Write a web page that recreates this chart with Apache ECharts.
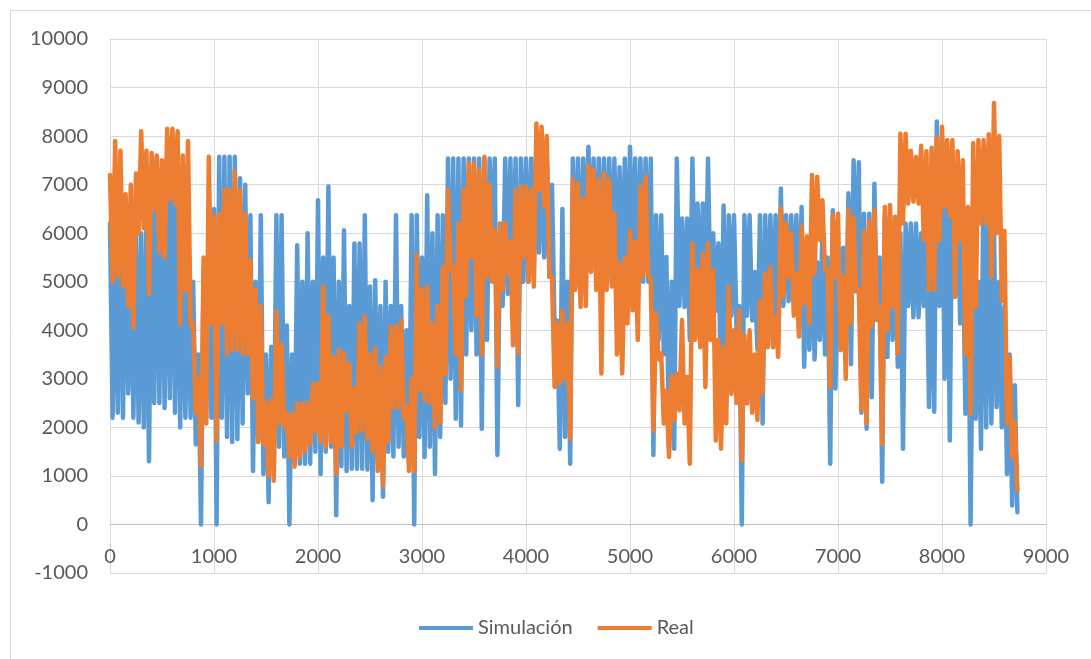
<!DOCTYPE html>
<html>
<head>
<meta charset="utf-8">
<script src="https://cdn.jsdelivr.net/npm/echarts@6/dist/echarts.min.js"></script>
<style>
  html, body { margin: 0; padding: 0; background: #ffffff; }
  #chart { width: 1091px; height: 659px; }
</style>
</head>
<body>
<div id="chart"></div>
<script>
// Sample spacing (hours) of the envelope readings below
const hourStep = 50;
const seriesNames = ['Simulación', 'Real'];
const xTicks = [0, 1000, 2000, 3000, 4000, 5000, 6000, 7000, 8000, 9000];
const yMin = -1000, yMax = 10000;

// Simulación: local maxima / minima read per 50-hour slot (0 .. 8700)
const simHigh = [
  6200,6000,6500,6500,6000,6100,6000,6200,6800,7575,
  7000,7300,7500,7500,6000,5600,5000,3500,5300,6000,
  6500,7575,7575,7575,7575,7130,7000,6370,5000,6370,
  3500,3660,6370,6370,4100,3500,5750,5000,6000,5000,
  6680,5500,6960,5500,5000,6060,4500,5790,5790,6370,
  4900,5030,4500,5000,4500,6370,4500,4000,6370,6370,
  5500,6780,6000,6370,6370,7540,7540,7540,7540,7540,
  7540,7540,7540,7540,7540,6000,7540,7540,7540,7540,
  7540,7540,7900,7900,7540,7000,4200,6500,5000,7540,
  7540,7540,7780,7540,7540,7540,7540,7540,7360,7540,
  7780,7540,7540,7540,7540,6370,6370,5510,5000,7540,
  6300,6300,7540,6610,6610,7540,6000,5790,6570,6370,
  6370,4500,6370,6370,5200,6370,6370,6370,6370,6920,
  6370,6370,6370,6540,5500,6000,5400,6000,5500,6470,
  5300,5700,6820,7500,7460,6400,6400,7020,5500,6400,
  6400,6000,6000,6200,6200,6200,6000,6000,6000,8300,
  7990,7500,7575,7000,6000,6000,5500,5000,7575,7000,
  6000,5000,4500,3500,2870
];
const simLow = [
  2200,2300,2200,2700,2200,2100,2000,1300,2500,2500,
  2400,2600,2300,2000,2200,2200,1650,0,2200,2200,
  0,2200,1800,1700,1760,2080,2700,1100,1700,1040,
  460,1200,1600,1400,0,1300,1250,1250,1250,1500,
  1040,1500,1600,190,1200,1100,1150,1150,1150,1130,
  500,1300,570,1500,1400,1600,1400,1300,0,1800,
  1390,1600,1040,1800,2500,3000,2180,2040,3500,4000,
  3500,1970,3800,5580,1430,4500,4750,4700,2460,5000,
  5000,5100,5600,5500,5100,4000,1560,1800,1250,5100,
  4600,5500,5400,5170,5200,5100,5000,4800,4500,4600,
  5200,4600,5000,5000,1430,3800,3500,1560,1560,4500,
  4480,3800,4600,4480,4400,4410,4400,2800,3100,4300,
  4000,0,4300,4200,3600,2080,4000,4200,3700,4500,
  4600,4610,4000,3250,3600,3400,3800,3500,1250,2800,
  3700,3600,3300,4800,2300,1970,2620,4210,880,3450,
  3800,3250,1560,4500,4270,4270,4500,2420,2320,4500,
  3000,1730,4690,4140,2280,0,2180,1560,2000,2080,
  2420,2000,1040,390,250
];

// Real: local maxima / minima read per 50-hour slot (0 .. 8700)
const realHigh = [
  7200,7900,7700,6800,7000,7230,8100,7700,7650,7600,
  7500,8150,8150,8100,7600,7900,4140,3000,5500,7575,
  6350,6400,6900,6900,7270,6890,6400,5440,4830,4500,
  2500,2560,4380,3700,2290,2290,2490,2490,2500,2900,
  2900,4900,4300,3450,3600,3520,3300,2800,4140,4280,
  3500,3620,3240,3450,4080,4080,4200,2420,3000,5550,
  4830,4900,4140,4500,5300,6890,5300,6200,6900,7440,
  7440,7300,7575,7000,6050,6200,6200,5830,6890,6960,
  6960,6890,8260,8190,8000,5100,4140,4400,4140,7100,
  7020,6700,7400,7300,7100,7230,7100,6400,5380,5500,
  6050,5830,6960,7160,5000,4350,3520,2760,3060,3110,
  4210,3040,5790,5240,5580,5790,5240,3800,3650,4900,
  4000,4410,3900,4000,3500,4600,5170,5300,4280,6510,
  6200,6000,5170,6130,5930,7200,7160,6680,5240,6370,
  6400,5100,6470,6330,4830,6040,6260,6470,4480,6540,
  6580,6340,8050,8050,7700,7570,7800,7690,7760,7970,
  8190,7920,7920,7690,7500,6540,7850,7920,7920,8040,
  8680,8000,6050,3450,2100
];
const realLow = [
  5000,5100,4900,4500,4050,6000,6100,4750,6500,5600,
  5500,6700,6600,4140,4830,4100,2300,1200,2080,4140,
  1730,4140,3500,3600,3590,3520,3500,2600,1700,1650,
  1000,900,2080,2000,1390,1190,1390,1500,1650,1900,
  1700,1600,1700,1040,1600,2350,1600,1900,1930,1750,
  1500,1100,800,1700,2400,2400,2200,1100,1100,2760,
  2560,2500,2000,2100,3100,5240,3500,2760,4700,5510,
  4300,3500,5100,5000,3250,4830,5170,3690,3520,5510,
  5000,4900,6890,6540,5100,2830,2900,3000,1770,4830,
  4480,4500,5200,4830,3110,4830,4900,3500,3110,4140,
  4410,3800,5100,5170,1930,3400,2080,1390,2150,2350,
  2080,1250,3800,3650,2830,3800,1730,1560,2080,2690,
  2500,1320,2490,2300,2150,2700,3650,3650,3450,4690,
  5100,4300,3870,4550,4140,5170,5860,5240,2830,5100,
  3590,3000,4140,4830,2350,2080,4080,4210,1660,4000,
  4480,3520,6200,6610,6650,6610,5855,4830,4830,5855,
  6540,6350,4690,5855,3500,2280,4480,6200,6200,5100,
  6000,4600,2080,1390,700
];

// Each slot contributes its maximum then its minimum, so the line sweeps the band
function buildZigzag(highs, lows) {
  const out = [];
  for (let i = 0; i < highs.length; i++) {
    out.push([i * hourStep, highs[i]]);
    out.push([i * hourStep + hourStep / 2, lows[i]]);
  }
  return out;
}

const simData = buildZigzag(simHigh, simLow);
const realData = buildZigzag(realHigh, realLow);

const FONT = 'Lato, "Open Sans", sans-serif';
const TEXT = '#595959';
const GRID = '#d9d9d9';
const plain = v => String(v);

const GRID_TOP = 39, GRID_BOTTOM = 86, H = 659;
// x axis crosses the value axis at 0 (Excel style): shift it up by the 0..min distance
const plotH = H - GRID_TOP - GRID_BOTTOM;
const zeroOffset = -plotH * (0 - yMin) / (yMax - yMin);

const chart = echarts.init(document.getElementById('chart'), null, { renderer: 'canvas' });
chart.setOption({
  animation: false,
  backgroundColor: '#ffffff',
  graphic: [{
    type: 'rect',
    shape: { x: 10.5, y: 10.5, width: 1200, height: 800 },
    style: { fill: 'none', stroke: GRID, lineWidth: 1 },
    silent: true,
    z: -10
  }],
  grid: { left: 110, right: 45, top: GRID_TOP, bottom: GRID_BOTTOM, containLabel: false },
  legend: {
    data: seriesNames,
    left: 414,
    top: 613,
    icon: 'rect',
    itemWidth: 54,
    itemHeight: 4,
    itemGap: 25,
    textStyle: { color: TEXT, fontSize: 20, fontFamily: FONT, padding: [0, 0, 0, 0] }
  },
  xAxis: {
    type: 'value',
    min: xTicks[0],
    max: xTicks[xTicks.length - 1],
    interval: 1000,
    offset: zeroOffset,
    axisLine: { show: true, onZero: false, lineStyle: { color: '#bfbfbf', width: 1 } },
    axisTick: { show: false },
    axisLabel: { color: TEXT, fontSize: 20, fontFamily: FONT, margin: 22, formatter: plain },
    splitLine: { show: true, lineStyle: { color: GRID, width: 1 } }
  },
  yAxis: {
    type: 'value',
    min: yMin,
    max: yMax,
    interval: 1000,
    axisLine: { show: false, onZero: false },
    axisTick: { show: false },
    axisLabel: { color: TEXT, fontSize: 20, fontFamily: FONT, margin: 22, formatter: plain },
    splitLine: { show: true, lineStyle: { color: GRID, width: 1 } }
  },
  series: [
    {
      name: seriesNames[0],
      type: 'line',
      data: simData,
      showSymbol: false,
      symbol: 'none',
      lineStyle: { color: '#5B9BD5', width: 4.5, join: 'round', cap: 'round' },
      itemStyle: { color: '#5B9BD5' },
      z: 2
    },
    {
      name: seriesNames[1],
      type: 'line',
      data: realData,
      showSymbol: false,
      symbol: 'none',
      lineStyle: { color: '#ED7D31', width: 4.5, join: 'round', cap: 'round' },
      itemStyle: { color: '#ED7D31' },
      z: 3
    }
  ]
});
</script>
</body>
</html>
